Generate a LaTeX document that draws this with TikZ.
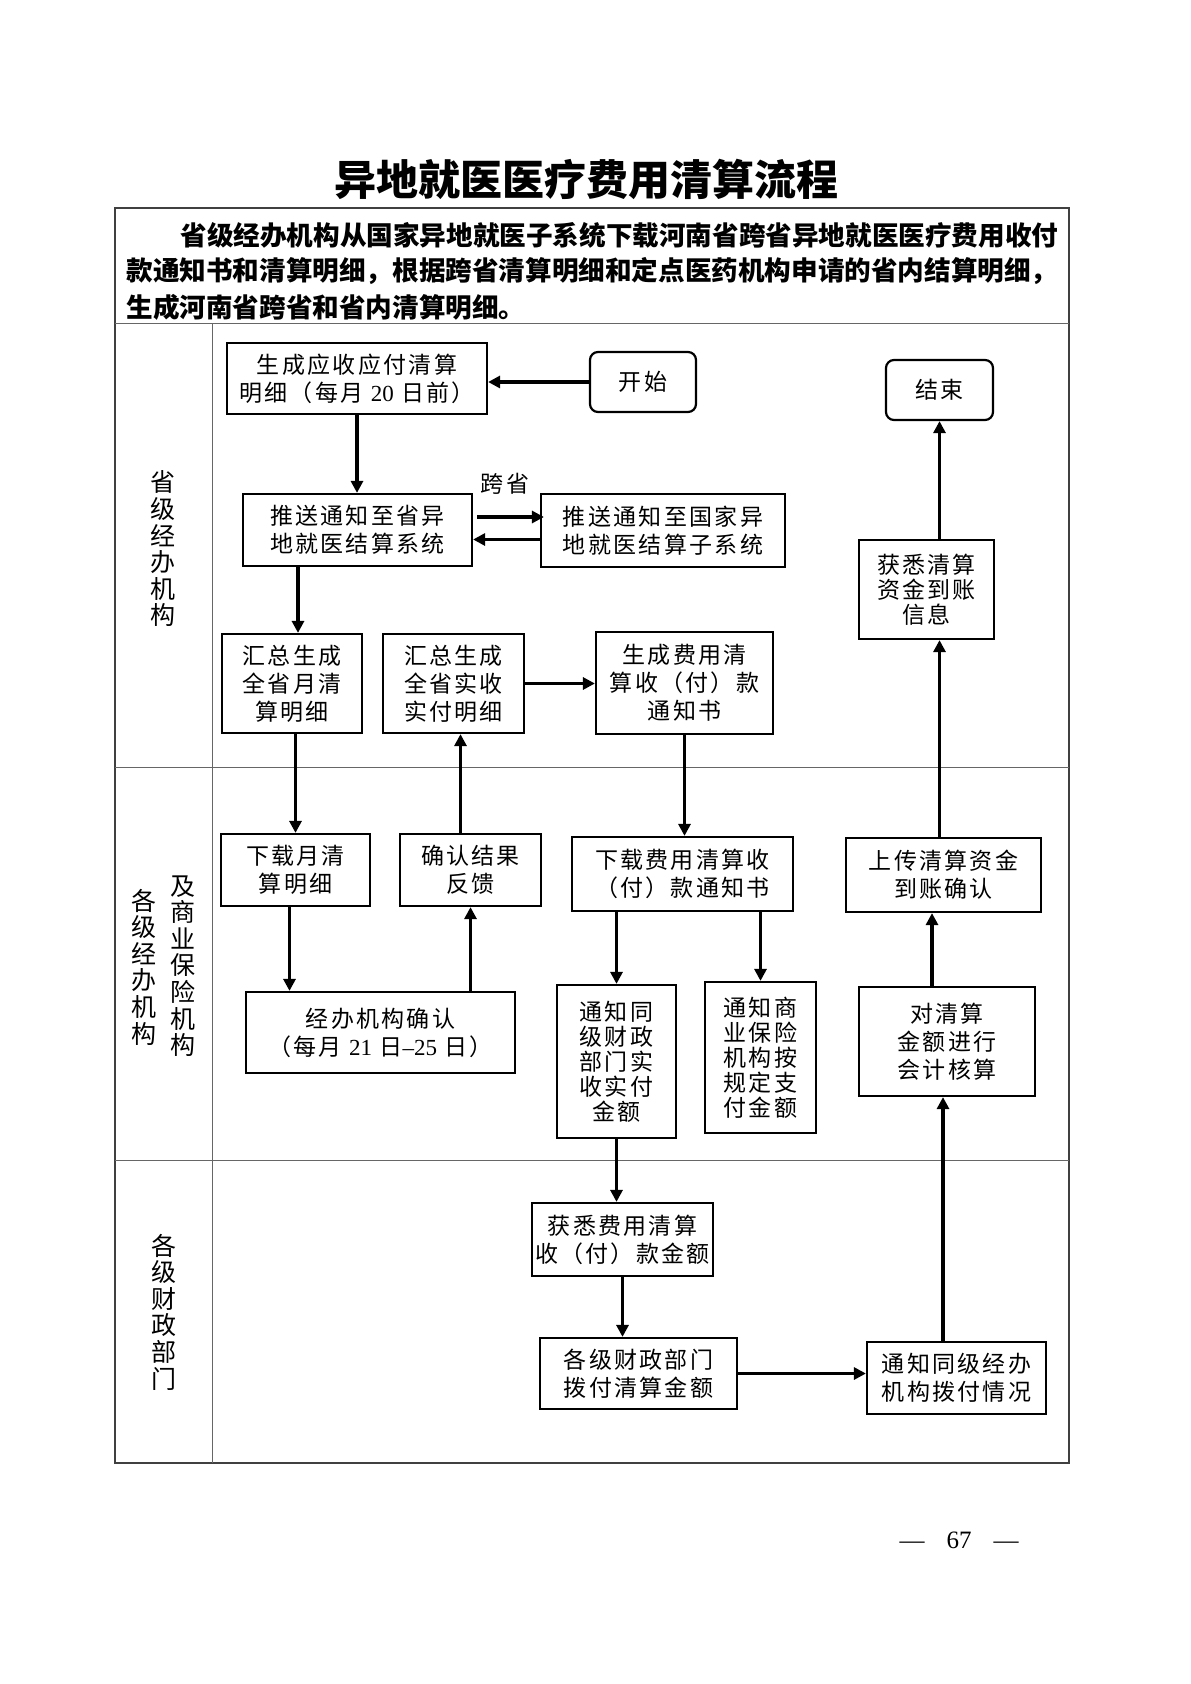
\documentclass[tikz,border=0pt]{standalone}
\usepackage{fontspec}
\setmainfont{Liberation Serif}
\newfontfamily\cjk{Noto Sans CJK SC}
\newfontfamily\cjkls[LetterSpace=10]{Noto Sans CJK SC}
\newfontfamily\numf{Liberation Serif}
\usetikzlibrary{arrows.meta}
\newcommand{\bxfont}{\cjkls\fontsize{11.5pt}{14pt}\selectfont}
\newcommand{\bxtight}{\cjkls\fontsize{11.5pt}{12.5pt}\selectfont}
\newcommand{\lanefont}{\cjk\fontsize{12.5pt}{13.3pt}\selectfont}
\begin{document}
\begin{tikzpicture}[x=0.5pt,y=-0.5pt,
  box/.style={draw, line width=1.1pt, align=center, inner sep=0pt, font=\bxfont},
  tbox/.style={box, font=\bxtight},
  term/.style={box, rounded corners=4pt},
  arr/.style={-{Triangle[length=6pt,width=6pt]}, line width=1.6pt},
  grid/.style={line width=0.5pt, black!60},
  lane/.style={align=center, inner sep=0pt, font=\lanefont},
  hdr/.style={anchor=west, inner sep=0pt, font=\cjk\bfseries\fontsize{13.3pt}{18pt}\selectfont}]
\fill[white] (0,0) rectangle (1190,1684);
\useasboundingbox (0,0) rectangle (1190,1684);

% title
\node[font=\cjk\bfseries\fontsize{21pt}{24pt}\selectfont] (title) at (586,179) {异地就医医疗费用清算流程};

% table
\draw[line width=0.7pt, black!75] (115,208) rectangle (1069,1463);
\draw[grid] (115,324) -- (1069,324);
\draw[grid] (212,324) -- (212,1463);
\draw[grid] (115,767) -- (1069,767);
\draw[grid] (115,1160) -- (1069,1160);

% header text
\node[hdr] (h1) at (180,235) {省级经办机构从国家异地就医子系统下载河南省跨省异地就医医疗费用收付};
\node[hdr] (h2) at (126,271) {款通知书和清算明细，根据跨省清算明细和定点医药机构申请的省内结算明细，};
\node[hdr] (h3) at (126,307) {生成河南省跨省和省内清算明细。};

% lane labels
\node[lane] (lane1) at (163,549) {省\\级\\经\\办\\机\\构};
\node[lane] (lane2a) at (144,967) {各\\级\\经\\办\\机\\构};
\node[lane] (lane2b) at (183,966) {及\\商\\业\\保\\险\\机\\构};
\node[lane] (lane3) at (164,1312) {各\\级\\财\\政\\部\\门};

% nodes
\node[box, minimum width=130pt, minimum height=35.5pt] (A) at (357,378.5) {生成应收应付清算\\明细（每月 {\numf 20} 日前）};
\node[term, minimum width=53pt, minimum height=30pt] (start) at (643,382) {开始};
\node[box, minimum width=114.5pt, minimum height=36pt] (B) at (357.5,530) {推送通知至省异\\地就医结算系统};
\node[box, minimum width=122pt, minimum height=36.5pt] (C) at (663,530.5) {推送通知至国家异\\地就医结算子系统};
\node[inner sep=0pt, font=\bxfont] (kua) at (505,484) {跨省};
\node[box, minimum width=70pt, minimum height=49.5pt] (D) at (292,683.5) {汇总生成\\全省月清\\算明细};
\node[box, minimum width=70.5pt, minimum height=49.5pt] (E) at (453.5,683.5) {汇总生成\\全省实收\\实付明细};
\node[box, minimum width=88.5pt, minimum height=51pt] (F) at (684.5,683) {生成费用清\\算收（付）款\\通知书};
\node[term, minimum width=53.5pt, minimum height=30pt] (end) at (939.5,390) {结束};
\node[tbox, minimum width=67.5pt, minimum height=49.5pt] (G) at (926.5,589.5) {获悉清算\\资金到账\\信息};
\node[box, minimum width=74.5pt, minimum height=36pt] (N) at (295.5,870) {下载月清\\算明细};
\node[box, minimum width=70.5pt, minimum height=36pt] (O) at (470.5,870) {确认结果\\反馈};
\node[box, minimum width=110.5pt, minimum height=37pt] (I) at (682.5,874) {下载费用清算收\\（付）款通知书};
\node[box, minimum width=97.5pt, minimum height=37pt] (H) at (943.5,875) {上传清算资金\\到账确认};
\node[box, minimum width=134.5pt, minimum height=40.5pt] (P) at (380.5,1032.5) {经办机构确认\\（每月 {\numf 21} 日{\numf –}{\numf 25} 日）};
\node[tbox, minimum width=59.5pt, minimum height=76.5pt] (J) at (616.5,1061.5) {通知同\\级财政\\部门实\\收实付\\金额};
\node[tbox, minimum width=55.5pt, minimum height=75.5pt] (K) at (760.5,1057.5) {通知商\\业保险\\机构按\\规定支\\付金额};
\node[box, minimum width=88pt, minimum height=54.5pt] (L) at (947,1041.5) {对清算\\金额进行\\会计核算};
\node[box, minimum width=90.5pt, minimum height=36.5pt] (Q) at (622.5,1239.5) {获悉费用清算\\收（付）款金额};
\node[box, minimum width=98.5pt, minimum height=35.5pt] (R) at (638.5,1373.5) {各级财政部门\\拨付清算金额};
\node[box, minimum width=89.5pt, minimum height=36pt] (M) at (956.5,1378) {通知同级经办\\机构拨付情况};

% page number
\node[font=\numf\fontsize{12.5pt}{14pt}\selectfont] (page) at (959,1540) {—\hspace{11pt}67\hspace{11pt}—};

% connectors
\draw[arr] (start.west) -- (start.west -| A.east);
\draw[arr] (A.south) -- (A.south |- B.north);
\draw[arr] ([yshift=6.5pt,xshift=2pt]B.east) -- ([yshift=6.5pt,xshift=2pt]B.east -| C.west);
\draw[arr] ([yshift=-4.5pt]C.west) -- ([yshift=-4.5pt]C.west -| B.east);
\draw[arr] ([xshift=3pt]D.north |- B.south) -- ([xshift=3pt]D.north);
\draw[arr] (E.east) -- (E.east -| F.west);
\draw[arr] (N.north |- D.south) -- (N.north);
\draw[arr] ([xshift=-5pt]O.north) -- ([xshift=-5pt]O.north |- E.south);
\draw[arr] (F.south) -- (F.south |- I.north);
\draw[arr] ([xshift=-3pt]N.south) -- ([xshift=-3pt]N.south |- P.north);
\draw[arr] (O.south |- P.north) -- (O.south);
\draw[arr] (J.north |- I.south) -- (J.north);
\draw[arr] (K.north |- I.south) -- (K.north);
\draw[arr] (J.south) -- (J.south |- Q.north);
\draw[arr] (Q.south) -- (Q.south |- R.north);
\draw[arr] (R.east) -- (R.east -| M.west);
\draw[arr] ([xshift=-2pt]L.south |- M.north) -- ([xshift=-2pt]L.south);
\draw[arr] ([xshift=-7.5pt]L.north) -- ([xshift=-7.5pt]L.north |- H.south);
\draw[arr] (H.north -| end.south) -- (G.south -| end.south);
\draw[arr] (G.north -| end.south) -- (end.south);
\end{tikzpicture}
\end{document}
